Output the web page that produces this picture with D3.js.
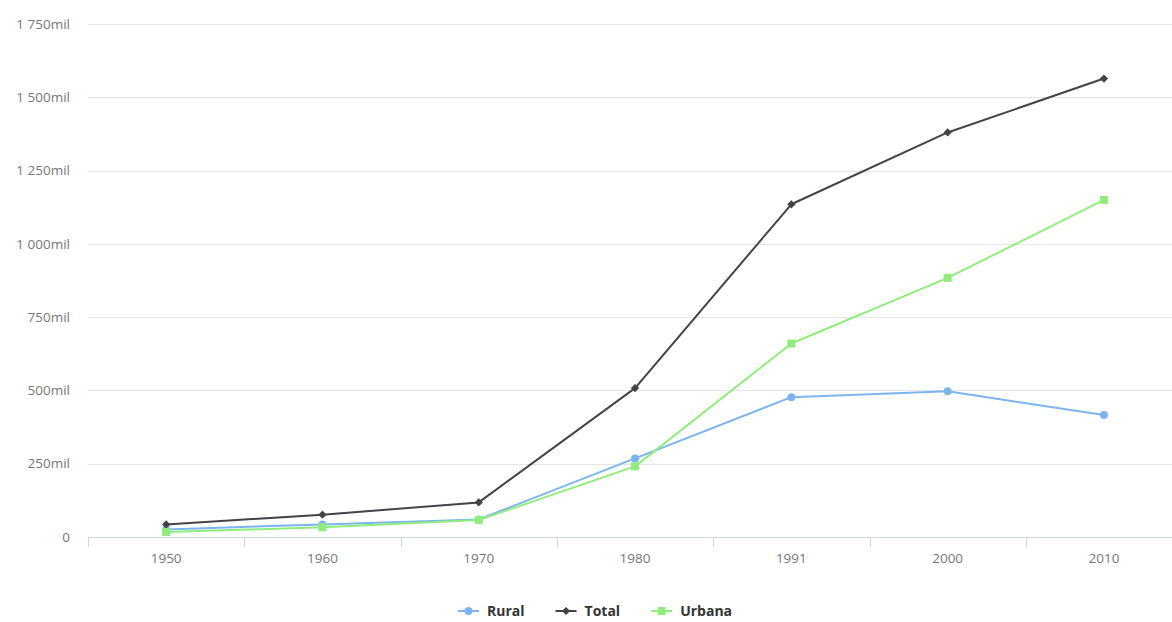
<!DOCTYPE html>
<html>
<head>
<meta charset="utf-8">
<script src="https://cdn.jsdelivr.net/npm/d3@7"></script>
<style>
  html, body { margin: 0; padding: 0; background: #fff; }
  svg { display: block; font-family: "Open Sans", Lato, sans-serif; }
</style>
</head>
<body>
<svg id="chart" width="1172" height="622"></svg>
<script>
// Population by area (thousands)
const years  = ["1950", "1960", "1970", "1980", "1991", "2000", "2010"];
const rural  = [26, 43, 60, 268, 477, 497, 416];
const total  = [43, 76, 118, 508, 1135, 1380, 1564];
const urbana = [17, 33, 58, 241, 660, 884, 1150];
const yTicks = [0, 250, 500, 750, 1000, 1250, 1500, 1750];

const series = [
  { name: "Rural",  values: rural,  color: "#7cb5ec", symbol: d3.symbolCircle, size: 50, rot: 0 },
  { name: "Total",  values: total,  color: "#434348", symbol: d3.symbolSquare, size: 34, rot: 45 },
  { name: "Urbana", values: urbana, color: "#90ed7d", symbol: d3.symbolSquare, size: 64, rot: 0 }
];

const svg = d3.select("#chart");
const W = 1172;
const left = 88, bandW = 156.3;
const x = d3.scaleBand().domain(years).range([left, left + bandW * years.length]);
const y = d3.scaleLinear().domain([0, 1750]).range([537, 24]);

const fmt = v => v === 0 ? "0" : (v >= 1000 ? Math.floor(v / 1000) + " " + d3.format("03d")(v % 1000) : v) + "mil";

// horizontal grid
svg.append("g").selectAll("line")
  .data(yTicks.filter(t => t > 0))
  .join("line")
  .attr("x1", left).attr("x2", W)
  .attr("y1", d => Math.round(y(d)) + 0.5).attr("y2", d => Math.round(y(d)) + 0.5)
  .attr("stroke", "#e6e6e6").attr("stroke-width", 1);

// y labels
svg.append("g").selectAll("text")
  .data(yTicks)
  .join("text")
  .attr("x", 70).attr("y", d => y(d))
  .attr("dy", "0.35em")
  .attr("text-anchor", "end")
  .attr("fill", "#777")
  .attr("font-size", 13.5)
  .text(fmt);

// x axis line and boundary ticks
const xAxis = svg.append("g");
xAxis.append("line")
  .attr("x1", left).attr("x2", W)
  .attr("y1", 537.5).attr("y2", 537.5)
  .attr("stroke", "#ccd6eb");
xAxis.selectAll("line.tick")
  .data(years)
  .join("line")
  .attr("class", "tick")
  .attr("x1", d => Math.round(x(d)) + 0.5).attr("x2", d => Math.round(x(d)) + 0.5)
  .attr("y1", 537).attr("y2", 547)
  .attr("stroke", "#ccd6eb");
xAxis.selectAll("text")
  .data(years)
  .join("text")
  .attr("x", d => x(d) + x.bandwidth() / 2)
  .attr("y", 563)
  .attr("text-anchor", "middle")
  .attr("fill", "#777")
  .attr("font-size", 13.5)
  .text(d => d);

// series lines and markers
const line = d3.line()
  .x((d, i) => x(years[i]) + x.bandwidth() / 2)
  .y(d => y(d));

series.forEach(s => {
  const g = svg.append("g");
  g.append("path")
    .attr("d", line(s.values))
    .attr("fill", "none")
    .attr("stroke", s.color)
    .attr("stroke-width", 2)
    .attr("stroke-linejoin", "round");
  g.selectAll("path.pt")
    .data(s.values)
    .join("path")
    .attr("class", "pt")
    .attr("transform", (d, i) => `translate(${x(years[i]) + x.bandwidth() / 2},${y(d)}) rotate(${s.rot})`)
    .attr("d", d3.symbol().type(s.symbol).size(s.size))
    .attr("fill", s.color);
});

// legend
const legend = svg.append("g").attr("transform", "translate(458,611)");
let lx = 0;
series.forEach(s => {
  const item = legend.append("g").attr("transform", `translate(${lx},0)`);
  item.append("line")
    .attr("x1", 0).attr("x2", 21).attr("y1", 0).attr("y2", 0)
    .attr("stroke", s.color).attr("stroke-width", 2);
  item.append("path")
    .attr("transform", `translate(10.5,0) rotate(${s.rot})`)
    .attr("d", d3.symbol().type(s.symbol).size(s.size))
    .attr("fill", s.color);
  const t = item.append("text")
    .attr("x", 29).attr("y", 0).attr("dy", "0.35em")
    .attr("font-size", 14).attr("font-weight", "bold")
    .attr("fill", "#333")
    .text(s.name);
  lx += 29 + t.node().getComputedTextLength() + 31;
});
</script>
</body>
</html>
